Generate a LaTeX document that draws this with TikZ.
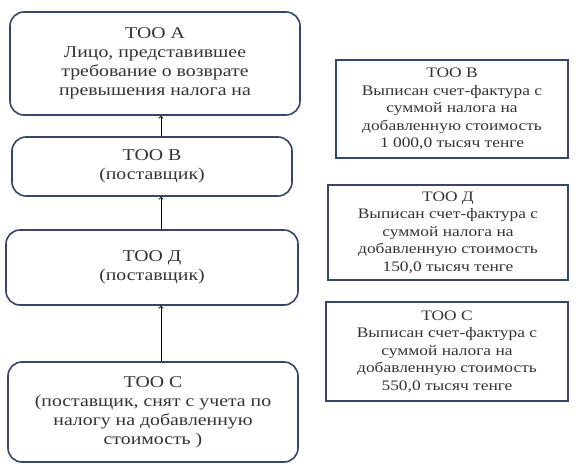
\documentclass[tikz,border=0pt]{standalone}
\usepackage{fontspec}
\setmainfont{Liberation Serif}[FakeStretch=1.2]
\definecolor{boxline}{HTML}{34466A}
\definecolor{txt}{HTML}{333333}
\begin{document}
\begin{tikzpicture}[x=1pt, y=-1pt, font=\fontsize{16.5}{19}\selectfont, text=txt]
    % Node styles
    \tikzstyle{chain box}=[draw=boxline, line width=1.6pt, rounded corners=14pt, align=center, inner sep=0pt]
    \tikzstyle{note box}=[draw=boxline, line width=1.6pt, align=center, inner sep=0pt, font=\fontsize{14.5}{17.5}\selectfont]
    \tikzstyle{up arrow}=[->, line width=0.9pt, black]

    \useasboundingbox (0,0) rectangle (578,476);

    % --- Left column: chain of suppliers ---
    \node[chain box, minimum width=290pt, minimum height=103pt] (too_a) at (155,63.5)
        {ТОО А\\Лицо, представившее\\требование о возврате\\превышения налога на};
    \node[chain box, minimum width=280pt, minimum height=59pt] (too_b) at (152,166.5)
        {ТОО В\\(поставщик)};
    \node[chain box, minimum width=292pt, minimum height=75pt] (too_d) at (152,267.5)
        {ТОО Д\\(поставщик)};
    \node[chain box, minimum width=290pt, minimum height=100pt] (too_c) at (153,412)
        {ТОО С\\(поставщик, снят с учета по\\налогу на добавленную\\стоимость )};

    % Arrows (all on one vertical line)
    \coordinate (axis) at (161,0);
    \draw[up arrow] (too_c.north -| axis) -- (too_d.south -| axis);
    \draw[up arrow] (too_d.north -| axis) -- (too_b.south -| axis);
    \draw[up arrow] (too_b.north -| axis) -- (too_a.south -| axis);

    % --- Right column: invoices ---
    \node[note box, minimum width=232pt, minimum height=98pt] (inv_b) at (452,109)
        {ТОО В\\Выписан счет-фактура с\\суммой налога на\\добавленную стоимость\\1 000,0 тысяч тенге};
    \node[note box, minimum width=240pt, minimum height=95pt] (inv_d) at (448,232.5)
        {ТОО Д\\Выписан счет-фактура с\\суммой налога на\\добавленную стоимость\\150,0 тысяч тенге};
    \node[note box, minimum width=242pt, minimum height=99pt] (inv_c) at (447,351.5)
        {ТОО С\\Выписан счет-фактура с\\суммой налога на\\добавленную стоимость\\550,0 тысяч тенге};

\end{tikzpicture}
\end{document}
